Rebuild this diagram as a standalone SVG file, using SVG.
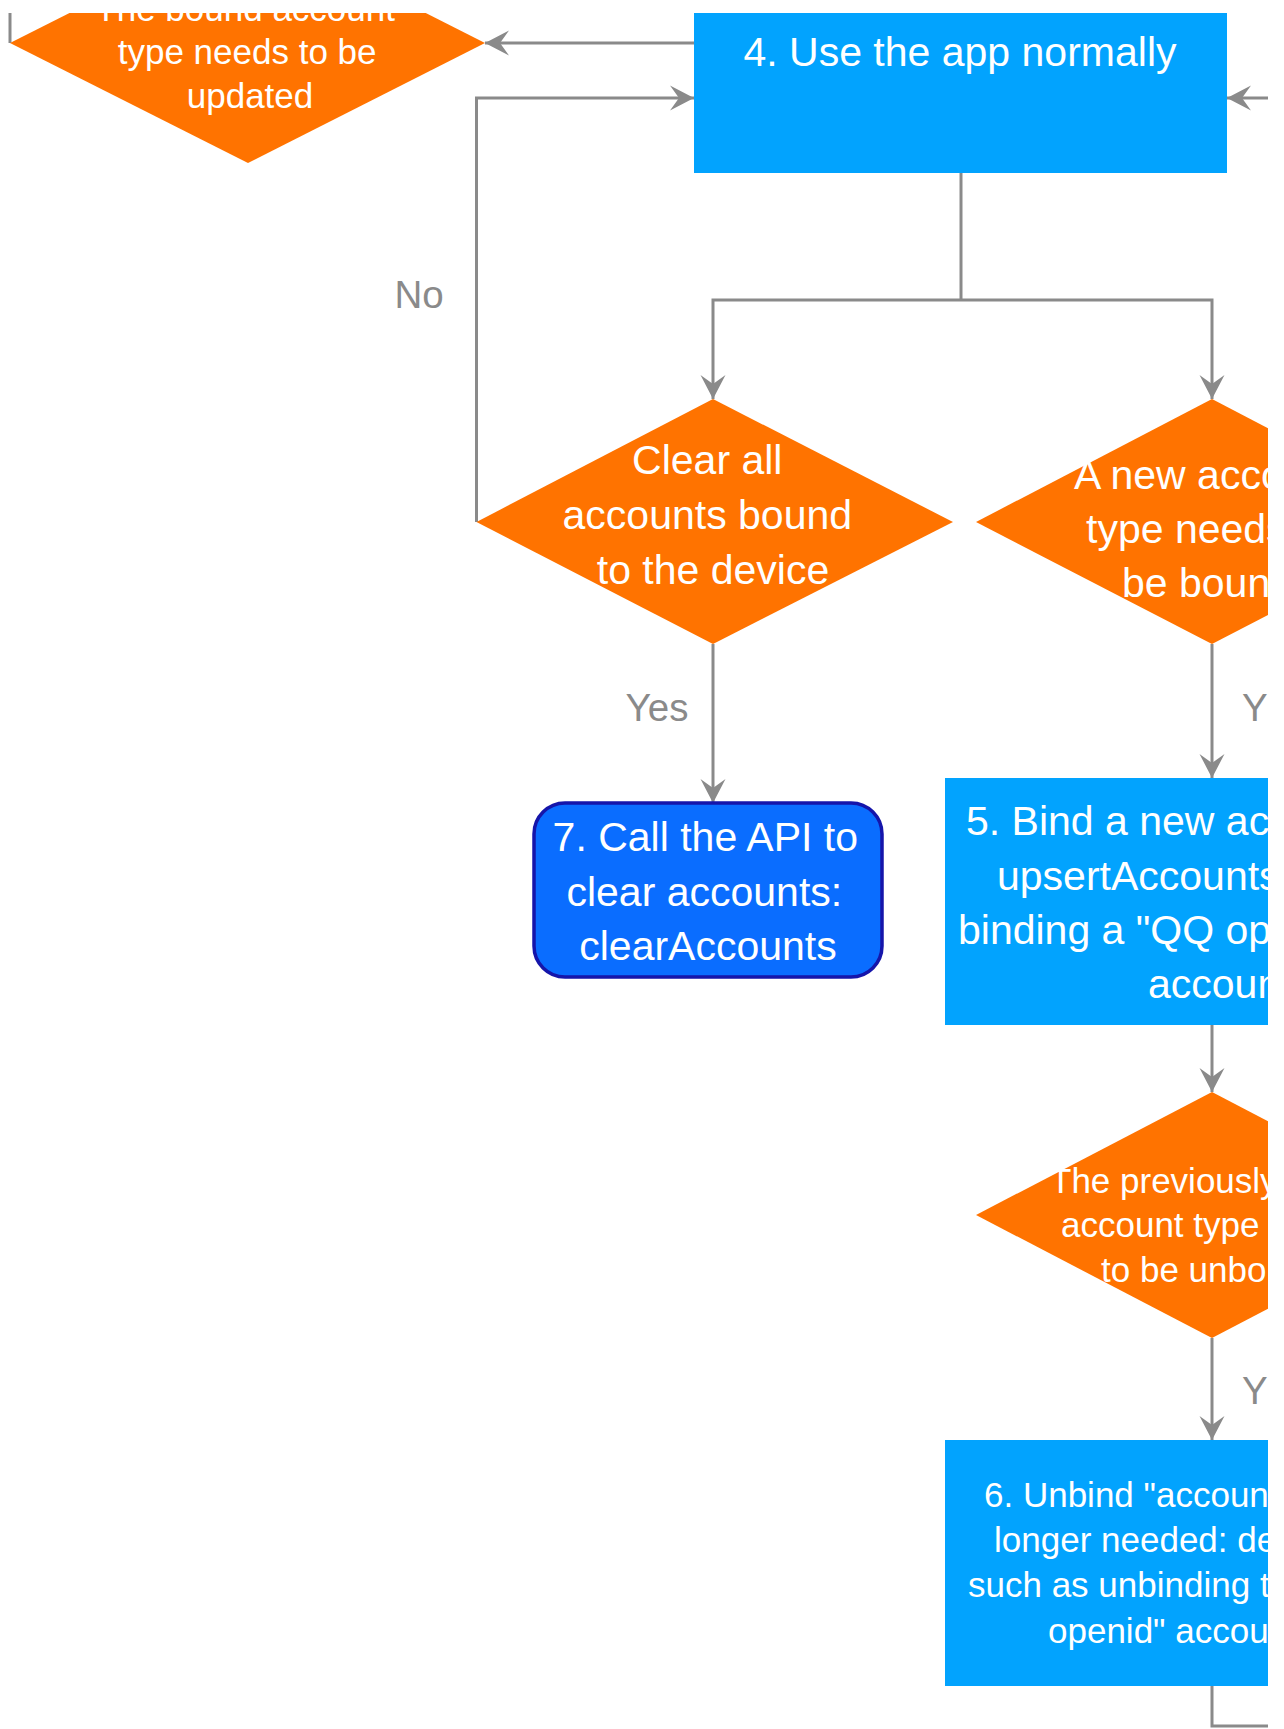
<svg xmlns="http://www.w3.org/2000/svg" width="1284" height="1729" viewBox="0 0 1284 1729">
  <defs>
    <clipPath id="frame">
      <rect x="0" y="13" width="1268" height="1716"/>
    </clipPath>
    <marker id="arrow" markerUnits="userSpaceOnUse" markerWidth="30" markerHeight="30" viewBox="-26 -15 30 30" refX="0" refY="0" orient="auto">
      <path d="M0,0 L-24,-12.5 L-15,0 L-24,12.5 Z" fill="#8a8a8a"/>
    </marker>
    <style>
      .edge { fill: none; stroke: #8a8a8a; stroke-width: 3; }
      .decision { fill: #ff7300; }
      .step { fill: #02a3fe; }
      .api { fill: #0a6dff; stroke: #1515aa; stroke-width: 3.5; }
      .t { font-family: "Liberation Sans", Arial, sans-serif; fill: #ffffff; }
      .big { font-size: 41px; }
      .small { font-size: 35px; }
      .label { font-family: "Liberation Sans", Arial, sans-serif; font-size: 38.5px; fill: #8a8a8a; }
    </style>
  </defs>
  <rect x="0" y="0" width="1284" height="1729" fill="#ffffff"/>
  <g clip-path="url(#frame)">
    <!-- connectors -->
    <g id="connectors">
      <path class="edge" d="M694,43 L485,43" marker-end="url(#arrow)"/>
      <path class="edge" d="M10,43 L10,0"/>
      <path class="edge" d="M476.5,522 L476.5,98 L694,98" marker-end="url(#arrow)"/>
      <path class="edge" d="M1275,98 L1227,98" marker-end="url(#arrow)"/>
      <path class="edge" d="M961,173 L961,300"/>
      <path class="edge" d="M961,300 L713,300 L713,399" marker-end="url(#arrow)"/>
      <path class="edge" d="M961,300 L1212,300 L1212,399" marker-end="url(#arrow)"/>
      <path class="edge" d="M713,644 L713,803" marker-end="url(#arrow)"/>
      <path class="edge" d="M1212,644 L1212,778" marker-end="url(#arrow)"/>
      <path class="edge" d="M1212,1025 L1212,1092" marker-end="url(#arrow)"/>
      <path class="edge" d="M1212,1338 L1212,1440" marker-end="url(#arrow)"/>
      <path class="edge" d="M1212,1686 L1212,1726 L1275,1726"/>
      <text class="label" x="419" y="308" text-anchor="middle">No</text>
      <text class="label" x="657" y="721" text-anchor="middle">Yes</text>
      <text class="label" x="1242" y="721">Y</text>
      <text class="label" x="1242" y="1404">Y</text>
    </g>

    <!-- decision: update bound account type -->
    <g id="node-update-type">
      <polygon class="decision" points="10,43 248,-77 485,43 248,163"/>
      <text class="t small" text-anchor="middle">
        <tspan x="250" y="21">The bound account</tspan>
        <tspan x="252" y="64">type needs to be</tspan>
        <tspan x="250" y="108">updated</tspan>
      </text>
    </g>

    <!-- step 4 -->
    <g id="node-use-app">
      <rect class="step" x="694" y="13" width="533" height="160"/>
      <text class="t big" x="960" y="66" text-anchor="middle">4. Use the app normally</text>
    </g>

    <!-- decision: clear all accounts -->
    <g id="node-clear-all">
      <polygon class="decision" points="476.5,522 713,399 953,522 713,644"/>
      <text class="t big" text-anchor="middle">
        <tspan x="713" y="474">Clear all</tspan>
        <tspan x="713" y="529">accounts bound</tspan>
        <tspan x="713" y="584">to the device</tspan>
      </text>
    </g>

    <!-- decision: new account type -->
    <g id="node-new-type">
      <polygon class="decision" points="976,522 1212,399 1448,522 1212,644"/>
      <text class="t big">
        <tspan x="1074" y="489">A new acco</tspan>
        <tspan x="1086" y="543">type needs</tspan>
        <tspan x="1122" y="597">be boun</tspan>
      </text>
    </g>

    <!-- step 7 -->
    <g id="node-clear-api">
      <rect class="api" x="534" y="803" width="348" height="174" rx="31" ry="31"/>
      <text class="t big" text-anchor="middle">
        <tspan x="711" y="851">7. Call the API to</tspan>
        <tspan x="710" y="906">clear accounts:</tspan>
        <tspan x="708" y="960">clearAccounts</tspan>
      </text>
    </g>

    <!-- step 5 -->
    <g id="node-bind">
      <rect class="step" x="945" y="778" width="534" height="247"/>
      <text class="t big">
        <tspan x="966" y="835">5. Bind a new ac</tspan>
        <tspan x="997" y="890">upsertAccounts</tspan>
        <tspan x="958" y="944">binding a "QQ op</tspan>
        <tspan x="1148" y="998">accoun</tspan>
      </text>
    </g>

    <!-- decision: unbind previous type -->
    <g id="node-unbind-type">
      <polygon class="decision" points="976,1215 1212,1092 1448,1215 1212,1338"/>
      <text class="t small">
        <tspan x="1050" y="1193">The previously</tspan>
        <tspan x="1061" y="1237">account type</tspan>
        <tspan x="1101" y="1282">to be unbo</tspan>
      </text>
    </g>

    <!-- step 6 -->
    <g id="node-unbind">
      <rect class="step" x="945" y="1440" width="534" height="246"/>
      <text class="t small">
        <tspan x="984" y="1507">6. Unbind "accoun</tspan>
        <tspan x="994" y="1552">longer needed: de</tspan>
        <tspan x="968" y="1597">such as unbinding t</tspan>
        <tspan x="1048" y="1643">openid" accou</tspan>
      </text>
    </g>
  </g>
</svg>
